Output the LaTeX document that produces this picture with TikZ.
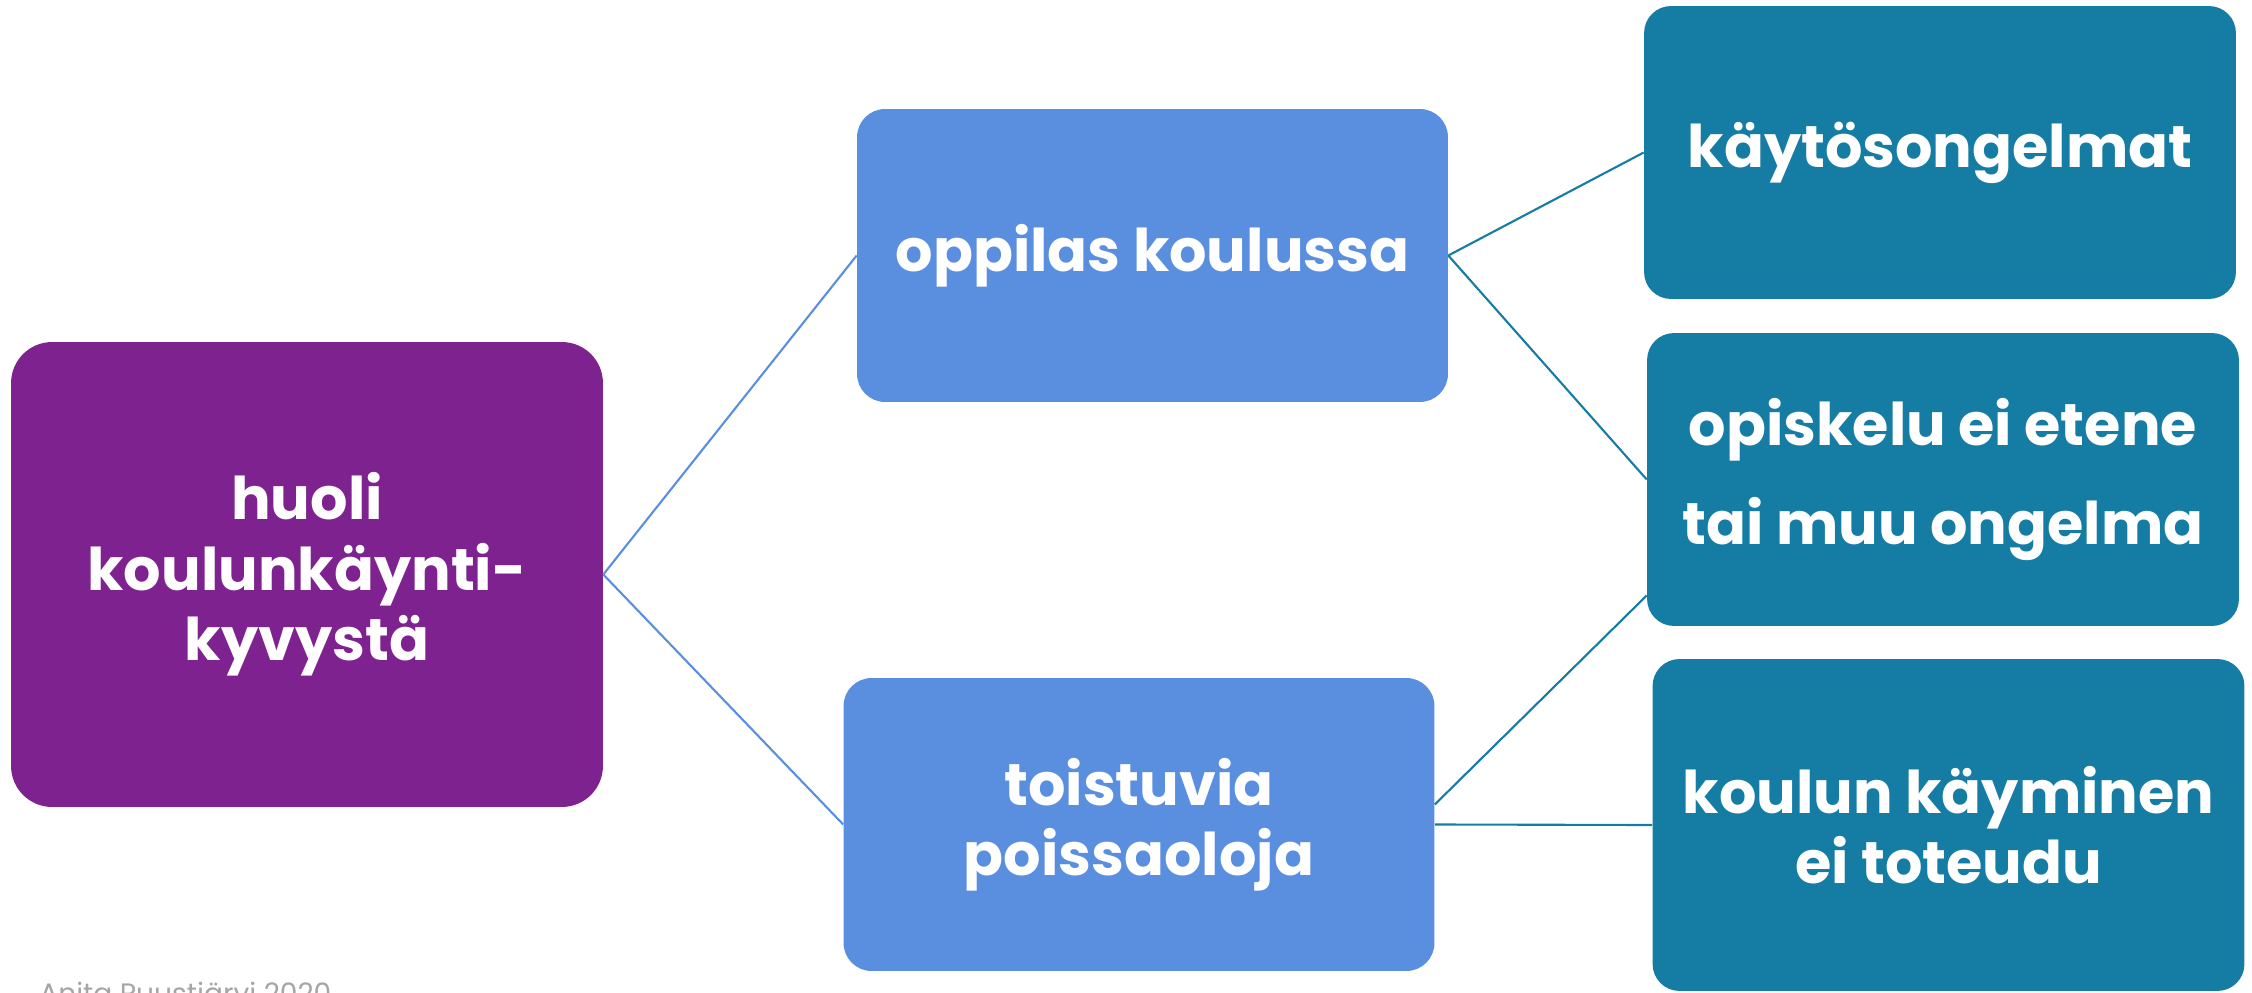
\documentclass[tikz,border=0pt]{standalone}
\usepackage{fontspec}
\setmainfont{Poppins}
\definecolor{purp}{RGB}{126,34,144}
\definecolor{lblue}{RGB}{90,143,224}
\definecolor{tealb}{RGB}{21,124,164}
\definecolor{footgray}{RGB}{165,165,165}
\begin{document}
\begin{tikzpicture}[x=0.02cm,y=-0.02cm,
  boxbase/.style={inner sep=0pt, align=center, text=white, font=\fontsize{33.5}{40}\selectfont\bfseries},
  purpbox/.style={boxbase, fill=purp, rounded corners=0.82cm, minimum width=11.84cm, minimum height=9.3cm},
  midbox/.style={boxbase, fill=lblue, rounded corners=0.56cm, minimum width=11.82cm, minimum height=5.86cm},
  rightbox/.style={boxbase, fill=tealb, rounded corners=0.54cm, minimum width=11.84cm, minimum height=5.86cm},
  blueline/.style={draw=lblue, line width=1.2pt},
  tealline/.style={draw=tealb, line width=1.2pt}]
\useasboundingbox (0,0) rectangle (2252,993);
\clip (0,0) rectangle (2252,993);
\node[purpbox] (huoli) at (307,574.5) {huoli\\koulunkäynti-\\kyvystä};
\node[midbox] (oppilas) at (1152.5,255.5) {oppilas koulussa};
\node[midbox] (toistuvia) at (1139,824.5) {toistuvia\\poissaoloja};
\node[rightbox] (kaytos) at (1940,152.5) {käytösongelmat};
\node[rightbox, font=\fontsize{33.5}{56}\selectfont\bfseries] (opiskelu) at (1943,479.5) {opiskelu ei etene\\tai muu ongelma};
\node[rightbox, minimum height=6.64cm] (koulun) at (1948.5,825) {koulun käyminen\\ei toteudu};
\draw[blueline] (huoli.east) -- (oppilas.west);
\draw[blueline] (huoli.east) -- (toistuvia.west);
\draw[tealline] (oppilas.east) -- (kaytos.west);
\draw[tealline] (oppilas.east) -- (opiskelu.west);
\draw[tealline] ([yshift=0.4cm]toistuvia.east) -- ([yshift=-2.32cm]opiskelu.west);
\draw[tealline] (toistuvia.east) -- (koulun.west);
\node[anchor=north west, inner sep=0pt, text=footgray, font=\fontsize{16}{18}\selectfont] (foot) at (39,982) {Anita Puustjärvi 2020};
\end{tikzpicture}
\end{document}
